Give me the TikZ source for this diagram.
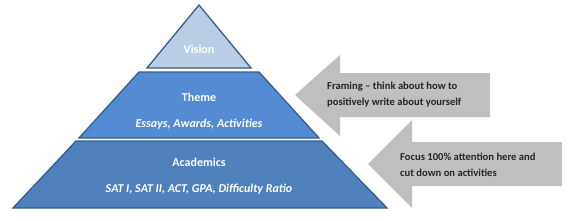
\documentclass[tikz,border=0pt]{standalone}
\usepackage{fontspec}
\setmainfont{Carlito}
\usepackage{tikz}
\usetikzlibrary{positioning,calc}
\definecolor{edge}{RGB}{56,93,138}
\definecolor{topb}{RGB}{185,205,229}
\definecolor{midb}{RGB}{84,139,210}
\definecolor{lowb}{RGB}{79,129,189}
\definecolor{arrg}{RGB}{191,191,191}
\definecolor{ink}{RGB}{38,38,38}
\tikzset{
  layer/.style={draw=edge,line width=1.3pt,line join=miter},
  ttl/.style={font=\fontsize{12}{14}\selectfont\bfseries,text=white},
  sub/.style={font=\fontsize{12}{14}\selectfont\bfseries\itshape,text=white},
  blk/.style={fill=arrg,draw=none},
  note/.style={font=\fontsize{10.6}{16}\selectfont\bfseries,text=ink,align=left,
    anchor=west,inner sep=0pt},
}
\begin{document}
\begin{tikzpicture}[x=1pt,y=-1pt]
  \useasboundingbox (0,0) rectangle (575,220);
  % pyramid
  \filldraw[layer,fill=topb] (199,5) -- (251,68) -- (147,68) -- cycle;
  \filldraw[layer,fill=midb] (139,72) -- (259,72) -- (319,138) -- (79,138) -- cycle;
  \filldraw[layer,fill=lowb] (76,141) -- (322,141) -- (387,208) -- (13,208) -- cycle;
  \node[ttl] (vis) at (199,49) {Vision};
  \node[ttl] (thm) at (199,97) {Theme};
  \node[sub] (thmsub) at (199,124) {Essays, Awards, Activities};
  \node[ttl] (aca) at (199,162) {Academics};
  \node[sub] (acasub) at (199,189) {SAT I, SAT II, ACT, GPA, Difficulty Ratio};
  % block arrows
  \fill[blk] (295,95) -- (340,55) -- (340,73) -- (490,73) -- (490,117)
    -- (340,117) -- (340,136) -- cycle;
  \fill[blk] (368,164) -- (412,120) -- (412,142) -- (562,142) -- (562,186)
    -- (412,186) -- (412,208) -- cycle;
  \node[note] (frm) at (327,95) {Framing -- think about how to\\positively write about yourself};
  \node[note] (foc) at (400,165) {Focus 100\% attention here and\\cut down on activities};
\end{tikzpicture}
\end{document}
